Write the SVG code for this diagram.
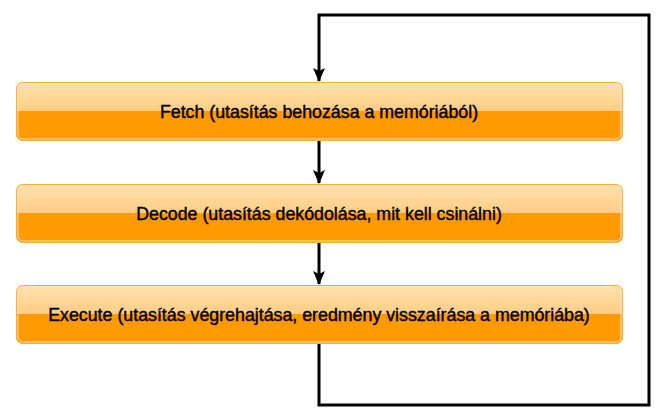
<svg xmlns="http://www.w3.org/2000/svg" width="665" height="420" viewBox="0 0 665 420">
  <style>
    .box { fill: url(#boxGrad); stroke: #ffad33; stroke-width: 1; }
    .inner { fill: none; stroke: #ffe2b3; stroke-width: 1; }
    .label { font-family: "Liberation Sans", Arial, sans-serif; font-size: 17.8px; fill: #000; stroke: #000; stroke-width: 0.4; text-anchor: middle; }
    .conn { fill: none; stroke: #000; stroke-width: 3; marker-end: url(#arrow); }
  </style>
  <defs>
    <linearGradient id="boxGrad" x1="0" y1="0" x2="0" y2="1">
      <stop offset="0" stop-color="#ffe2ad"/>
      <stop offset="0.49" stop-color="#ffcd84"/>
      <stop offset="0.5" stop-color="#ff9a00"/>
      <stop offset="1" stop-color="#ff9a00"/>
    </linearGradient>
    <marker id="arrow" viewBox="0 0 14 12" markerWidth="14" markerHeight="12" refX="13" refY="6" orient="auto" markerUnits="userSpaceOnUse">
      <path d="M0,0 L14,6 L0,12 L3,6 Z" fill="#000"/>
    </marker>
  </defs>

  <g id="connectors">
    <path class="conn" d="M319,141 V183"/>
    <path class="conn" d="M319,243 V284"/>
    <path class="conn" d="M319,344 V405 H649 V15 H319 V81"/>
  </g>

  <g id="fetch">
    <rect class="box" x="16.5" y="82.5" width="606" height="58" rx="6"/>
    <rect class="inner" x="18" y="84" width="603" height="55" rx="5"/>
    <text class="label" x="319" y="118">Fetch (utasítás behozása a memóriából)</text>
  </g>
  <g id="decode">
    <rect class="box" x="16.5" y="184.5" width="606" height="58" rx="6"/>
    <rect class="inner" x="18" y="186" width="603" height="55" rx="5"/>
    <text class="label" x="319" y="220">Decode (utasítás dekódolása, mit kell csinálni)</text>
  </g>
  <g id="execute">
    <rect class="box" x="16.5" y="285.5" width="606" height="58" rx="6"/>
    <rect class="inner" x="18" y="287" width="603" height="55" rx="5"/>
    <text class="label" x="319" y="321">Execute (utasítás végrehajtása, eredmény visszaírása a memóriába)</text>
  </g>
</svg>
